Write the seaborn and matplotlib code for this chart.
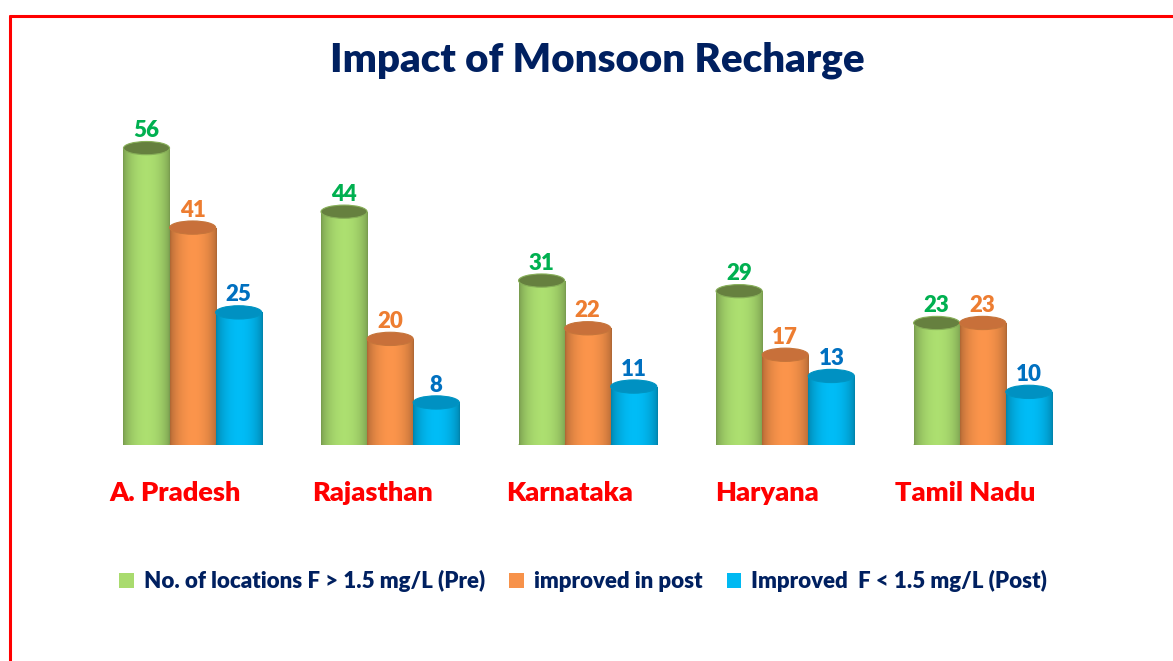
import numpy as np
import pandas as pd
import matplotlib
matplotlib.use('Agg')
import matplotlib.pyplot as plt
import matplotlib.transforms as mtransforms
import seaborn as sns
from matplotlib.patches import Ellipse, Patch
from matplotlib.lines import Line2D
from matplotlib.colors import to_rgb

# data
states = ['A. Pradesh', 'Rajasthan', 'Karnataka', 'Haryana', 'Tamil Nadu']
series = ['No. of locations F > 1.5 mg/L (Pre)', 'improved in post', 'Improved  F < 1.5 mg/L (Post)']
pre = [56, 44, 31, 29, 23]
improved = [41, 20, 22, 17, 23]
post = [25, 8, 11, 13, 10]

bar_colors = ['#A9DB6E', '#F7924A', '#00B9F2']
top_colors = ['#66803F', '#C8703A', '#0091C2']
label_colors = ['#00B050', '#ED7D31', '#0070C0']
navy = '#002060'

df = pd.DataFrame({
    'state': states * 3,
    'series': [series[0]] * 5 + [series[1]] * 5 + [series[2]] * 5,
    'value': pre + improved + post,
})

sns.set_style('white')
plt.rcParams['font.family'] = ['Lato', 'DejaVu Sans']
heavy = 'heavy'

fig = plt.figure(figsize=(11.73, 6.61), dpi=100)
ax = fig.add_axes([0.080, 0.327, 0.842, 0.481])

sns.barplot(data=df, x='state', y='value', hue='series', palette=bar_colors,
            saturation=1, width=0.7, ax=ax, legend=False)

t = np.linspace(0, 1, 80)
shade = 0.70 + 0.32 * np.sin(np.pi * t) ** 0.6
eh = 2.5  # ellipse height in data units

for i, cont in enumerate(ax.containers):
    base = np.array(to_rgb(bar_colors[i]))
    grad = np.clip(base[None, :] * shade[:, None], 0, 1)[None, :, :]
    z = 2 + i * 4
    for bar in cont:
        x0, w, h = bar.get_x(), bar.get_width(), bar.get_height()
        bar.set_facecolor('none')
        bar.set_edgecolor('none')
        # bottom rounding
        ax.add_patch(Ellipse((x0 + w / 2, 0), w, eh, facecolor=base * 0.85,
                             edgecolor='none', zorder=z))
        im = ax.imshow(grad, extent=[x0, x0 + w, 0, h], aspect='auto',
                       zorder=z + 1, interpolation='bilinear')
        im.set_clip_path(bar)
        ax.add_patch(Ellipse((x0 + w / 2, h), w, eh, facecolor=top_colors[i],
                             edgecolor=base * 0.8, lw=0.8, zorder=z + 2))
        ax.annotate(f'{int(h)}', (x0 + w / 2, h), xytext=(0, 5),
                    textcoords='offset points', ha='center', va='bottom',
                    color=label_colors[i], fontsize=16, fontweight=heavy,
                    zorder=z + 3)

ax.set_xlim(-0.5, 4.5)
ax.set_ylim(0, 60)
ax.set_xlabel('')
ax.set_ylabel('')
ax.set_yticks([])
for s in ax.spines.values():
    s.set_visible(False)
ax.tick_params(axis='x', length=0, pad=26)
shift = mtransforms.ScaledTranslation(-18 / 100, 0, fig.dpi_scale_trans)
for lbl in ax.get_xticklabels():
    lbl.set_color('#FF0000')
    lbl.set_fontweight(heavy)
    lbl.set_fontsize(19.5)
    lbl.set_transform(lbl.get_transform() + shift)

fig.text(0.509, 0.909, 'Impact of Monsoon Recharge', ha='center', va='center',
         fontsize=29, fontweight=heavy, color=navy)

handles = [Patch(facecolor=c, edgecolor='none') for c in bar_colors]
leg = fig.legend(handles, series, loc='center', bbox_to_anchor=(0.497, 0.121),
                 ncol=3, frameon=False, handlelength=0.65, handleheight=0.65,
                 handletextpad=0.45, columnspacing=1.1,
                 prop={'weight': heavy, 'size': 16})
for txt in leg.get_texts():
    txt.set_color(navy)

# red frame (left and top edges visible)
fig.add_artist(Line2D([10 / 1173, 10 / 1173], [0, 1 - 16 / 661], color='#FF0000',
                      lw=2.2, transform=fig.transFigure))
fig.add_artist(Line2D([10 / 1173, 1], [1 - 16 / 661, 1 - 16 / 661], color='#FF0000',
                      lw=2.2, transform=fig.transFigure))

fig.savefig('out.png', dpi=100)
